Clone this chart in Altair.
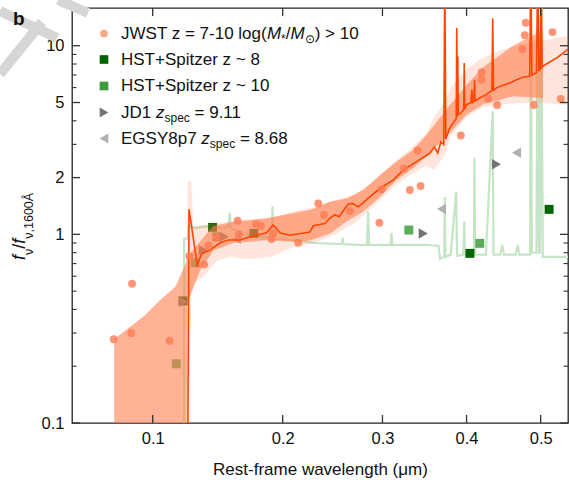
import altair as alt
import pandas as pd

# ---------------- data ----------------
jwst_lam = [0.0767, 0.0868, 0.0873, 0.1111, 0.1355, 0.1247, 0.1387, 0.1449, 0.1614, 0.1625,
            0.1766, 0.1809, 0.1901, 0.1915, 0.2142, 0.2333, 0.2389, 0.2651, 0.2966, 0.2990,
            0.3241, 0.3310, 0.3397, 0.3435, 0.3927, 0.4193, 0.4193, 0.4280, 0.4399, 0.4742,
            0.4777, 0.4790, 0.4903, 0.5170, 0.5291]
jwst_f = [0.278, 0.300, 0.547, 0.273, 0.693, 0.767, 0.870, 0.964, 1.181, 1.000,
          1.134, 1.107, 0.944, 1.012, 0.902, 1.457, 1.266, 1.329, 1.152, 1.733,
          2.239, 1.718, 2.784, 1.804, 3.343, 7.235, 6.625, 5.242, 4.853, 9.616,
          11.38, 13.24, 4.853, 11.81, 5.223]

hst8_lam = [0.1202, 0.1418, 0.1749, 0.4043, 0.5121]
hst8_f = [0.444, 1.089, 1.012, 0.793, 1.357]
hst10_lam = [0.1156, 0.1290, 0.1450, 0.3298, 0.4170]
hst10_f = [0.206, 0.707, 0.970, 1.054, 0.896]
jd1_lam = [0.1207, 0.1348, 0.1508, 0.3467, 0.4390]
jd1_f = [0.439, 0.826, 0.971, 1.012, 2.351]
egs_lam = [0.1450, 0.1607, 0.3687, 0.4662]
egs_f = [0.960, 0.944, 1.362, 2.710]

# model spectrum (light green)
spec_lam = [0.1208, 0.1211, 0.1235, 0.1240, 0.130, 0.135, 0.140, 0.150, 0.154, 0.1552, 0.156,
            0.165, 0.175, 0.185, 0.190, 0.191, 0.192, 0.210, 0.230, 0.250, 0.257, 0.2576, 0.2585,
            0.270, 0.283, 0.2844, 0.2855, 0.300, 0.309, 0.3101, 0.311, 0.330, 0.350, 0.365,
            0.367, 0.372, 0.3727, 0.3735, 0.380, 0.3869, 0.388, 0.396, 0.397, 0.398, 0.4095,
            0.4101, 0.411, 0.425, 0.434, 0.435, 0.444, 0.447, 0.449, 0.465, 0.468, 0.470,
            0.485, 0.4861, 0.4875, 0.494, 0.4959, 0.4975, 0.499, 0.5007, 0.503, 0.540]
spec_f = [0.05, 0.95, 0.95, 1.10, 1.08, 1.10, 1.10, 1.08, 1.10, 1.30, 1.08,
          1.02, 0.98, 0.96, 0.96, 1.41, 0.95, 0.93, 0.90, 0.89, 0.89, 0.96, 0.89,
          0.88, 0.88, 1.32, 0.88, 0.88, 0.88, 1.02, 0.88, 0.88, 0.88, 0.87,
          0.74, 0.76, 1.58, 0.76, 0.78, 1.68, 0.77, 0.78, 1.17, 0.78, 0.78,
          2.55, 0.78, 0.78, 4.5, 0.78, 0.78, 0.88, 0.78, 0.78, 0.88, 0.78,
          0.78, 25.0, 0.80, 0.80, 25.0, 0.80, 0.80, 25.0, 0.76, 0.76]

# median JWST SED (orange-red line)
sed_lam = [0.1235, 0.1245, 0.1304, 0.1336, 0.1398, 0.1474, 0.1539, 0.1633, 0.1715, 0.1857,
           0.1915, 0.1975, 0.2066, 0.2253, 0.2285, 0.2398, 0.2448, 0.2498, 0.2541, 0.2590,
           0.2634, 0.2679, 0.2738, 0.2863, 0.2971, 0.3119, 0.3233, 0.3388, 0.3545, 0.3600,
           0.3640, 0.3680, 0.3715, 0.3727, 0.3740, 0.3780, 0.3830, 0.3869, 0.3876, 0.3882,
           0.3889, 0.3895, 0.3930, 0.3965, 0.3970, 0.3976, 0.4000, 0.4055, 0.4069, 0.4075,
           0.4095, 0.4102, 0.4110, 0.4170, 0.4250, 0.4330, 0.4340, 0.4350, 0.4390, 0.4470,
           0.4570, 0.4660, 0.4750, 0.4845, 0.4861, 0.4875, 0.4940, 0.4959, 0.4975, 0.4995,
           0.5007, 0.5020, 0.5034, 0.5130, 0.5227, 0.5300, 0.5400]
sed_f = [0.05, 1.36, 0.687, 0.79, 0.825, 0.90, 0.933, 0.933, 0.97, 1.02,
         1.12, 1.02, 0.99, 1.03, 1.11, 1.14, 1.22, 1.27, 1.24, 1.35,
         1.45, 1.46, 1.40, 1.58, 1.75, 1.94, 2.19, 2.43, 2.69, 2.90,
         2.70, 3.10, 3.00, 25.0, 3.20, 3.60, 3.90, 4.10, 12.4, 4.20,
         8.80, 4.30, 4.40, 4.60, 8.10, 4.60, 4.87, 5.00, 5.85, 5.00,
         5.10, 6.60, 5.10, 5.28, 5.50, 5.80, 14.0, 5.80, 5.98, 6.15,
         6.35, 6.60, 6.80, 6.88, 25.0, 7.00, 7.20, 25.0, 7.40, 7.50,
         25.0, 7.70, 7.80, 8.20, 8.60, 9.00, 9.60]

# inner (darker) uncertainty band
band_lam = [0.0770, 0.0951, 0.1050, 0.1150, 0.1228, 0.1232, 0.1323, 0.1423, 0.1580, 0.1858,
            0.2158, 0.2263, 0.2450, 0.2617, 0.2791, 0.2971, 0.3157, 0.3348, 0.3505, 0.3749,
            0.4000, 0.4213, 0.4614, 0.5034]
band_lo = [0.05, 0.05, 0.05, 0.05, 0.05, 0.43, 0.64, 0.82, 0.90, 0.93,
           0.91, 0.93, 1.01, 1.17, 1.32, 1.58, 1.94, 2.24, 2.60, 3.30,
           4.31, 4.90, 5.40, 5.28]
band_hi = [0.278, 0.373, 0.45, 0.527, 0.72, 0.76, 0.914, 1.107, 1.166, 1.216,
           1.318, 1.35, 1.49, 1.55, 1.72, 2.06, 2.43, 2.80, 3.36, 4.60,
           6.20, 7.70, 10.0, 12.1]

# outer (lighter) band
wide_lam = [0.1235, 0.1262, 0.1275, 0.135, 0.145, 0.155, 0.170, 0.190, 0.210, 0.230, 0.250,
            0.270, 0.290, 0.310, 0.330, 0.350, 0.360, 0.372, 0.380, 0.400, 0.420, 0.450,
            0.480, 0.500, 0.540]
wide_lo = [0.05, 0.50, 0.55, 0.60, 0.72, 0.76, 0.74, 0.76, 0.86, 0.90, 1.00,
           1.15, 1.40, 1.75, 2.05, 2.30, 2.20, 2.60, 3.30, 4.20, 4.70, 4.90,
           5.00, 5.00, 4.85]
wide_hi = [1.90, 1.90, 1.10, 1.12, 1.15, 1.16, 1.20, 1.22, 1.32, 1.40, 1.52,
           1.62, 1.90, 2.35, 2.80, 3.40, 4.20, 5.00, 6.00, 7.50, 8.60, 9.60,
           10.3, 10.6, 11.3]

x_ticks = [0.1, 0.2, 0.3, 0.4, 0.5]
y_major = [0.1, 1, 2, 5, 10]
y_minor = [0.2, 0.3, 0.4, 0.5, 0.6, 0.7, 0.8, 0.9, 3, 4, 6, 7, 8, 9]

# ---------------- layout ----------------
W, H = 496, 415
FONT = "Liberation Sans"
INK = "#111111"
xs = alt.Scale(type="sqrt", domain=[0.0552, 0.5397], nice=False, zero=False)
ys = alt.Scale(type="log", domain=[0.1, 15.85], nice=False)
xaxis = alt.Axis(values=x_ticks, format=".1f", title="Rest-frame wavelength (μm)",
                 labelFontSize=16.5, titleFontSize=17, labelPadding=7, titlePadding=15,
                 ticks=False, domain=False, grid=False, labelColor=INK, titleColor=INK,
                 titleFontWeight="normal", labelFont=FONT, titleFont=FONT)
yaxis = alt.Axis(values=y_major, format="~g", title=None, labelFontSize=16.5,
                 labelPadding=8, ticks=False, domain=False, grid=False, labelColor=INK,
                 labelFont=FONT)
X = alt.X("lam:Q", scale=xs, axis=xaxis)
Y = alt.Y("f:Q", scale=ys, axis=yaxis)

one = pd.DataFrame({"k": [0]})

spec = pd.DataFrame({"lam": spec_lam, "f": spec_f})
sed = pd.DataFrame({"lam": sed_lam, "f": sed_f})
band = pd.DataFrame({"lam": band_lam, "f": band_lo, "hi": band_hi})
wide = pd.DataFrame({"lam": wide_lam, "f": wide_lo, "hi": wide_hi})
jw = pd.DataFrame({"lam": jwst_lam, "f": jwst_f})
h8 = pd.DataFrame({"lam": hst8_lam, "f": hst8_f})
h10 = pd.DataFrame({"lam": hst10_lam, "f": hst10_f})
jd = pd.DataFrame({"lam": jd1_lam, "f": jd1_f})
eg = pd.DataFrame({"lam": egs_lam, "f": egs_f})

layers = []
# grey watermark strokes in the corner (drawn first, under the text)
for (x1, y1, x2, y2) in [(-72, 3, -15, 30), (-30, 14, -72, 66), (-14, -8, 16, 5)]:
    layers.append(alt.Chart(one).mark_rule(color="#d6d6d6", strokeWidth=10, strokeCap="butt")
                  .encode(x=alt.value(x1), y=alt.value(y1), x2=alt.value(x2), y2=alt.value(y2)))

layers.append(alt.Chart(spec).mark_line(color="#c6e5c6", strokeWidth=2.2, clip=True)
              .encode(x=X, y=Y, order="lam:Q"))
layers.append(alt.Chart(h10).mark_square(color="#5aac5a", opacity=1, size=80, clip=True).encode(x=X, y=Y))
layers.append(alt.Chart(h8).mark_square(color="#006400", opacity=1, size=80, clip=True).encode(x=X, y=Y))
layers.append(alt.Chart(eg).mark_point(shape="triangle-left", filled=True, color="#b0b0b0",
                                       opacity=1, size=110, clip=True).encode(x=X, y=Y))
layers.append(alt.Chart(jd).mark_point(shape="triangle-right", filled=True, color="#747474",
                                       opacity=1, size=110, clip=True).encode(x=X, y=Y))
layers.append(alt.Chart(wide).mark_area(color="#ff7f50", opacity=0.2, clip=True)
              .encode(x=X, y=Y, y2="hi:Q"))
layers.append(alt.Chart(band).mark_area(color="#ff7f50", opacity=0.6, clip=True)
              .encode(x=X, y=Y, y2="hi:Q"))
layers.append(alt.Chart(sed).mark_line(color="#ff4500", strokeWidth=1.6, clip=True)
              .encode(x=X, y=Y, order="lam:Q"))
layers.append(alt.Chart(jw).mark_circle(color="#ff7b54", opacity=0.8, size=62, clip=True)
              .encode(x=X, y=Y))

# inward ticks
TC = "#333333"
xt = pd.DataFrame({"lam": x_ticks})
ymaj = pd.DataFrame({"f": y_major})
ymin = pd.DataFrame({"f": y_minor})
layers.append(alt.Chart(xt).mark_rule(color=TC, strokeWidth=1.3)
              .encode(x=X, y=alt.value(H), y2=alt.value(H - 8)))
layers.append(alt.Chart(xt).mark_rule(color=TC, strokeWidth=1.3)
              .encode(x=X, y=alt.value(0), y2=alt.value(8)))
layers.append(alt.Chart(ymaj).mark_rule(color=TC, strokeWidth=1.3)
              .encode(y=Y, x=alt.value(0), x2=alt.value(8)))
layers.append(alt.Chart(ymaj).mark_rule(color=TC, strokeWidth=1.3)
              .encode(y=Y, x=alt.value(W), x2=alt.value(W - 8)))
layers.append(alt.Chart(ymin).mark_rule(color=TC, strokeWidth=1.1)
              .encode(y=Y, x=alt.value(0), x2=alt.value(4.5)))
layers.append(alt.Chart(ymin).mark_rule(color=TC, strokeWidth=1.1)
              .encode(y=Y, x=alt.value(W), x2=alt.value(W - 4.5)))

# ---------------- text helpers ----------------
CW = {' ': 278, 'J': 500, 'W': 944, 'S': 667, 'T': 611, 'z': 500, '=': 584,
      '7': 556, '-': 333, '1': 556, '0': 556, 'l': 222, 'o': 556, 'g': 556, '(': 333, ')': 333,
      'M': 833, '/': 278, '*': 389, '>': 584, 'H': 722, '+': 584, 'p': 556, 'i': 222, 't': 278,
      'e': 556, 'r': 333, '~': 584, '8': 556, 'D': 722, '.': 278, '9': 556, 'E': 667, 'G': 778,
      'Y': 667, '6': 556, 's': 500, 'c': 500, 'f': 278, 'ν': 500, ',': 278, 'Å': 667, '⊙': 838}


def tw(s, size):
    return sum(CW.get(ch, 556) for ch in s) * size / 1000.0


def txt(s, x, y, size, style="normal", weight="normal", angle=0, baseline="middle"):
    return (alt.Chart(one)
            .mark_text(text=s, font=FONT, fontSize=size, fontStyle=style, fontWeight=weight,
                       angle=angle, align="left", baseline=baseline, color=INK)
            .encode(x=alt.value(x), y=alt.value(y)))


# legend
LF, SF = 17, 12
MX, TX = 32, 49
rows_y = [25.5, 51.5, 78.0, 104.5, 130.5]
layers.append(alt.Chart(one).mark_circle(color="#fdaa8a", opacity=1, size=60)
              .encode(x=alt.value(MX), y=alt.value(rows_y[0])))
layers.append(alt.Chart(one).mark_square(color="#006400", opacity=1, size=75)
              .encode(x=alt.value(MX), y=alt.value(rows_y[1])))
layers.append(alt.Chart(one).mark_square(color="#3d9a3d", opacity=1, size=75)
              .encode(x=alt.value(MX), y=alt.value(rows_y[2])))
layers.append(alt.Chart(one).mark_point(shape="triangle-right", filled=True, color="#747474",
                                        opacity=1, size=100)
              .encode(x=alt.value(MX), y=alt.value(rows_y[3])))
layers.append(alt.Chart(one).mark_point(shape="triangle-left", filled=True, color="#b0b0b0",
                                        opacity=1, size=100)
              .encode(x=alt.value(MX), y=alt.value(rows_y[4])))


def rich(pieces, x0, y):
    out = []
    x = x0
    for s, kind in pieces:
        size = SF if kind == "s" else LF
        lead = len(s) - len(s.lstrip(" "))
        x += tw(" " * lead, size)
        core = s.strip(" ")
        if kind == "n":
            out.append(txt(core, x, y, LF))
        elif kind == "i":
            out.append(txt(core, x, y, LF, style="italic"))
        else:
            out.append(txt(core, x, y + 5, SF))
        x += tw(s.lstrip(" "), size)
    return out


layers += rich([("JWST z = 7-10 log(", "n"), ("M", "i"), ("*", "s"), ("/", "n"),
                ("M", "i"), ("⊙", "s"), (") > 10", "n")], TX, rows_y[0])
layers += rich([("HST+Spitzer z ~ 8", "n")], TX, rows_y[1])
layers += rich([("HST+Spitzer z ~ 10", "n")], TX, rows_y[2])
layers += rich([("JD1 ", "n"), ("z", "i"), ("spec", "s"), (" = 9.11", "n")], TX, rows_y[3])
layers += rich([("EGSY8p7 ", "n"), ("z", "i"), ("spec", "s"), (" = 8.68", "n")], TX, rows_y[4])

# y-axis title (rotated, built from pieces)
YF, YS = 18, 12.5
bx_main, bx_sub = -47, -39
yy = 252.0
for s, kind in [("f", "i"), ("ν", "s"), ("/", "n"), ("f", "i"), ("ν,1600Å", "s")]:
    if kind == "s":
        layers.append(txt(s, bx_sub, yy, YS, angle=270, baseline="alphabetic"))
        yy -= tw(s, YS)
    else:
        layers.append(txt(s, bx_main, yy, YF, style="italic" if kind == "i" else "normal",
                          angle=270, baseline="alphabetic"))
        yy -= tw(s, YF)

# panel letter
layers.append(txt("b", -59, 17, 19, weight="bold", baseline="alphabetic"))

chart = (alt.layer(*layers)
         .properties(width=W, height=H, background="white",
                     padding={"left": 72, "top": 8, "right": 1, "bottom": 60},
                     autosize=alt.AutoSizeParams(type="none"))
         .configure_view(stroke="#222222", strokeWidth=1.3)
         .configure_axis(labelFont=FONT, titleFont=FONT))

chart.save("out.html", embed_options={"renderer": "svg", "actions": False})
